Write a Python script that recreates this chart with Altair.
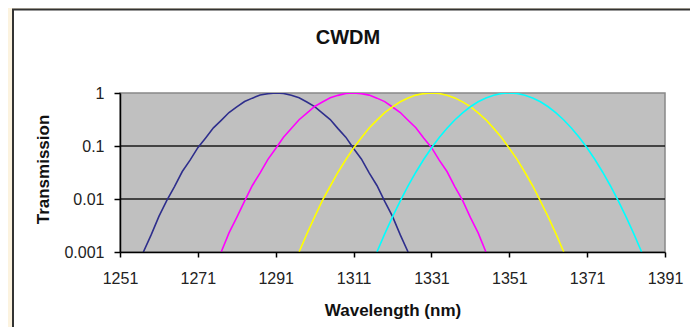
import altair as alt
import pandas as pd

# ---- data ----
title_text = ["CWDM"]
channels = ["1291 nm", "1311 nm", "1331 nm", "1351 nm"]
colors = ["#2e2e8c", "#ff00ff", "#ffff00", "#00ffff"]

wl_1291 = list(range(1257, 1326, 2))
wl_1311 = list(range(1277, 1346, 2))
wl_1331 = list(range(1297, 1366, 2))
wl_1351 = list(range(1317, 1386, 2))

t_1291 = [0.001, 0.0021, 0.0047, 0.0093, 0.0172, 0.033, 0.054, 0.093, 0.142, 0.22, 0.305,
          0.428, 0.545, 0.69, 0.80, 0.915, 0.97, 1.0, 0.98, 0.905, 0.81, 0.675, 0.555, 0.418,
          0.315, 0.213, 0.147, 0.090, 0.057, 0.031, 0.018, 0.0090, 0.0047, 0.0021, 0.001]
t_1311 = [0.001, 0.0023, 0.0045, 0.0091, 0.0180, 0.031, 0.056, 0.090, 0.146, 0.214, 0.313,
          0.418, 0.556, 0.676, 0.812, 0.903, 0.98, 1.0, 0.972, 0.912, 0.80, 0.688, 0.545, 0.428,
          0.306, 0.221, 0.141, 0.094, 0.054, 0.033, 0.0172, 0.0094, 0.0045, 0.0023, 0.001]
t_1331 = [0.001, 0.0022, 0.0046, 0.0094, 0.0174, 0.032, 0.055, 0.092, 0.143, 0.218, 0.308,
          0.425, 0.548, 0.685, 0.803, 0.912, 0.975, 1.0, 0.977, 0.907, 0.808, 0.679, 0.552, 0.42,
          0.312, 0.215, 0.145, 0.091, 0.056, 0.032, 0.0178, 0.0091, 0.0046, 0.0022, 0.001]
t_1351 = [0.001, 0.0022, 0.0046, 0.0092, 0.0177, 0.032, 0.0555, 0.0915, 0.144, 0.217, 0.31,
          0.423, 0.55, 0.682, 0.806, 0.909, 0.976, 1.0, 0.976, 0.909, 0.806, 0.682, 0.55, 0.423,
          0.31, 0.217, 0.144, 0.0916, 0.0555, 0.032, 0.0176, 0.0092, 0.0046, 0.0022, 0.001]

x_ticks = [1251, 1271, 1291, 1311, 1331, 1351, 1371, 1391]
y_ticks = [0.001, 0.01, 0.1, 1]
grid_values = [0.1, 0.01]

# ---- tables ----
rows = []
for ch, wls, ts in zip(channels, [wl_1291, wl_1311, wl_1331, wl_1351],
                       [t_1291, t_1311, t_1331, t_1351]):
    for w, t in zip(wls, ts):
        rows.append({"wl": w, "T": t, "ch": ch})
df = pd.DataFrame(rows)
one = pd.DataFrame({"t": title_text})
grid_df = pd.DataFrame({"g": grid_values})

FONT = "Liberation Sans"
W, H = 545, 159

xscale = alt.Scale(domain=[1251, 1391], nice=False, zero=False)
yscale = alt.Scale(type="log", domain=[0.001, 1], nice=False)

x_axis = alt.Axis(values=x_ticks, format="d", grid=False, title="Wavelength (nm)",
                  labelFontSize=16, labelFont=FONT, labelColor="#222",
                  labelPadding=13, labelFlush=False, labelOverlap=False,
                  tickSize=5, tickColor="black", tickWidth=1.5,
                  domainColor="black", domainWidth=1.5, zindex=1,
                  titleFontSize=17, titleFont=FONT, titleFontWeight="bold",
                  titleColor="#111", titleY=58, titleBaseline="middle")
y_axis = alt.Axis(values=y_ticks, format="~g", grid=False, title="Transmission",
                  labelFontSize=16, labelFont=FONT, labelColor="#222",
                  labelPadding=10, labelFlush=False, labelOverlap=False,
                  tickSize=6, tickColor="black", tickWidth=1.5,
                  domainColor="black", domainWidth=1.5, zindex=1,
                  titleFontSize=17, titleFont=FONT, titleFontWeight="bold",
                  titleColor="#111", titleX=-77, titleY=76, titleAngle=-90,
                  titleBaseline="middle", titleAlign="center")

panel = alt.Chart(one).mark_rect(fill="white", stroke="#333333", strokeWidth=2).encode(
    x=alt.value(-107), x2=alt.value(700), y=alt.value(-83.5), y2=alt.value(400))

plot_bg = alt.Chart(one).mark_rect(fill="#c0c0c0", stroke="#888888", strokeWidth=1.5).encode(
    x=alt.datum(1251, scale=xscale, axis=x_axis, type="quantitative"),
    x2=alt.datum(1391),
    y=alt.datum(1, scale=yscale, axis=y_axis, type="quantitative"),
    y2=alt.datum(0.001))

grid = alt.Chart(grid_df).mark_rule(color="#1a1a1a", strokeWidth=1.5).encode(
    y=alt.Y("g:Q", scale=yscale))

lines = alt.Chart(df).mark_line(strokeWidth=1.6, clip=True).encode(
    x=alt.X("wl:Q", scale=xscale),
    y=alt.Y("T:Q", scale=yscale),
    color=alt.Color("ch:N", scale=alt.Scale(domain=channels, range=colors), legend=None),
    detail="ch:N")

title = alt.Chart(one).mark_text(fontSize=20, fontWeight="bold", font=FONT, color="#111",
                                 align="center", baseline="middle").encode(
    text="t:N", x=alt.value(228), y=alt.value(-55))

chart = alt.layer(panel, plot_bg, grid, lines, title).properties(
    width=W, height=H,
    autosize=alt.AutoSizeParams(type="none"),
    padding={"left": 112, "top": 85, "right": 25, "bottom": 75},
    background="#fcf3df",
).configure_view(strokeWidth=0)

chart.save("out.html", embed_options={"renderer": "svg", "actions": False})
